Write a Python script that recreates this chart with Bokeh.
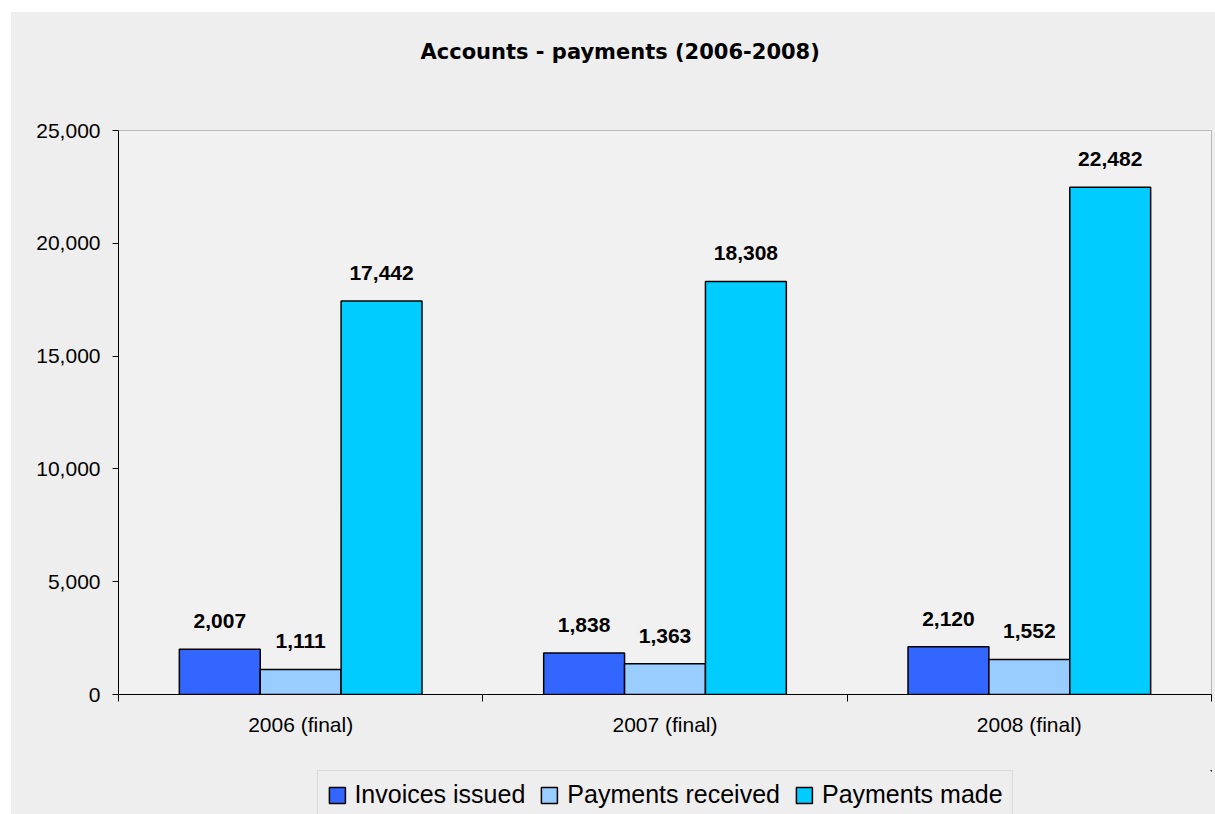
from bokeh.plotting import figure
from bokeh.layouts import column
from bokeh.models import (Range1d, FixedTicker, NumeralTickFormatter, Legend,
                          LegendItem, ColumnDataSource)
from bokeh.transform import dodge
from bokeh.core.properties import value
from bokeh.embed import file_html
from bokeh.resources import INLINE

# ---- data ----
categories = ["2006 (final)", "2007 (final)", "2008 (final)"]
series_names = ["Invoices issued", "Payments received", "Payments made"]
invoices_issued = [2007, 1838, 2120]
payments_received = [1111, 1363, 1552]
payments_made = [17442, 18308, 22482]
colors = ["#3366ff", "#99ccff", "#00ccff"]
y_ticks = [0, 5000, 10000, 15000, 20000, 25000]
title_text = "Accounts - payments (2006-2008)"

BG = "#eeeeee"
font = value("Liberation Sans")

# ---- title strip ----
head = figure(width=1204, height=58, output_backend="svg", toolbar_location=None,
              x_axis_location=None, y_axis_location=None,
              min_border_left=107, min_border_right=4, min_border_top=56,
              min_border_bottom=0, title=title_text)
head.title.align = "left"
head.title.offset = 302
head.title.standoff = 10
head.title.text_font = "DejaVu Sans"
head.title.text_font_style = "bold"
head.title.text_font_size = "21px"
head.title.text_color = "#000000"
head.border_fill_color = BG
head.background_fill_color = BG
head.outline_line_color = None
head.grid.visible = False

# ---- main chart ----
xpos = [i + 0.5 for i in range(len(categories))]
boundaries = [float(i) for i in range(len(categories) + 1)]
src = ColumnDataSource(dict(
    x=xpos,
    s0=invoices_issued, s1=payments_received, s2=payments_made,
    t0=[f"{v:,}" for v in invoices_issued],
    t1=[f"{v:,}" for v in payments_received],
    t2=[f"{v:,}" for v in payments_made],
))

p = figure(width=1204, height=700, title_location=None,
           x_range=Range1d(0, len(categories)), y_range=Range1d(0, 25000),
           output_backend="svg", toolbar_location=None,
           min_border_left=107, min_border_right=4,
           min_border_top=60, min_border_bottom=76)
xa = p.xaxis[0]
ya = p.yaxis[0]

p.border_fill_color = BG
p.background_fill_color = "#f1f1f1"
p.outline_line_color = "#b8b8b8"
p.xgrid.visible = False
p.ygrid.visible = False

bar_w = 0.222
offsets = [-bar_w, 0.0, bar_w]
for k in range(3):
    p.vbar(x=dodge("x", offsets[k]), top=f"s{k}", width=bar_w, source=src,
           fill_color=colors[k], line_color="#000000", line_width=1.5)
    p.text(x=dodge("x", offsets[k]), y=f"s{k}", text=f"t{k}", source=src,
           text_align="center", text_baseline="alphabetic", y_offset=-28,
           text_font=font, text_font_style="bold", text_font_size="21px",
           text_color="#000000")

ya.ticker = FixedTicker(ticks=y_ticks)
ya.formatter = NumeralTickFormatter(format="0,0")
ya.major_tick_out = 6
ya.major_tick_in = 0
ya.minor_tick_out = 0
ya.minor_tick_in = 0
ya.axis_line_color = "#000000"
ya.major_tick_line_color = "#000000"
ya.major_label_text_font = "Liberation Sans"
ya.major_label_text_font_size = "21px"
ya.major_label_text_color = "#000000"
ya.major_label_standoff = 12

xa.ticker = FixedTicker(ticks=xpos, minor_ticks=boundaries)
xa.major_label_overrides = {xv: c for xv, c in zip(xpos, categories)}
xa.major_tick_out = 0
xa.major_tick_in = 0
xa.minor_tick_out = 7
xa.minor_tick_in = 0
xa.minor_tick_line_color = "#000000"
xa.axis_line_color = "#000000"
xa.major_label_text_font = "Liberation Sans"
xa.major_label_text_font_size = "21px"
xa.major_label_text_color = "#000000"
xa.major_label_standoff = 11

# ---- legend strip (its series renderers lie outside this strip's view) ----
leg = figure(width=1204, height=44, output_backend="svg", toolbar_location=None,
             x_axis_location=None, y_axis_location=None,
             x_range=Range1d(-20, -19), y_range=Range1d(-20, -19),
             min_border_left=107, min_border_right=4, min_border_top=0,
             min_border_bottom=0)
leg.border_fill_color = BG
leg.background_fill_color = BG
leg.outline_line_color = None
leg.grid.visible = False
leg_renderers = [leg.vbar(x="x", top=f"s{k}", width=bar_w, source=src,
                          fill_color=colors[k], line_color="#000000",
                          line_width=1.5)
                 for k in range(3)]
legend = Legend(
    items=[LegendItem(label=n, renderers=[r]) for n, r in zip(series_names, leg_renderers)],
    orientation="horizontal", location="top_center", margin=0,
    glyph_width=20, glyph_height=20, label_standoff=8, spacing=14, padding=9,
    label_text_font="Liberation Sans", label_text_font_size="25px",
    label_text_color="#000000",
    border_line_color="#c4c4c4", background_fill_alpha=0.0,
)
leg.add_layout(legend)

layout = column(head, p, leg, spacing=0, margin=(12, 0, 0, 11),
                styles={"background-color": BG})
open("out.html", "w").write(file_html(layout, INLINE))
